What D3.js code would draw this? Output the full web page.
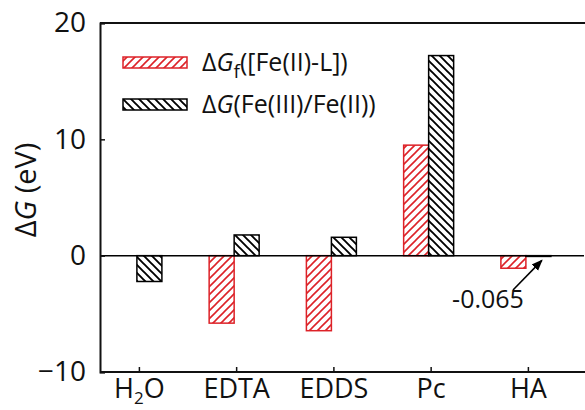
<!DOCTYPE html>
<html><head><meta charset="utf-8">
<script src="https://cdn.jsdelivr.net/npm/d3@7"></script>
<style>body{margin:0;background:#fff}svg{display:block}text{font-family:"Open Sans",sans-serif;fill:#111}</style>
</head><body><svg id="c" width="585" height="410"></svg>
<script>
const categories = ["H2O","EDTA","EDDS","Pc","HA"];
const dGf = [null, -5.8, -6.45, 9.5, -1.08];          // ΔGf([Fe(II)-L])
const dGredox = [-2.22, 1.78, 1.58, 17.2, -0.065];     // ΔG(Fe(III)/Fe(II))
const yTicks = [-10, 0, 10, 20];
const annotation = "-0.065";

const svg = d3.select("#c");
const L = 100, R = 584, T = 23, B = 372;
const x = d3.scaleLinear().domain([0.6, 5.577]).range([L, R]);
const y = d3.scaleLinear().domain([-10, 20]).range([B, T]);
const red = "#dd2228";

const defs = svg.append("defs");
function hatch(id, color, dir, sw){
  const p = defs.append("pattern").attr("id", id).attr("patternUnits","userSpaceOnUse")
    .attr("width", 8).attr("height", 8);
  p.append("rect").attr("width",8).attr("height",8).attr("fill","#fff");
  const d = dir > 0 ? "M-2,2 L2,-2 M0,8 L8,0 M6,10 L10,6" : "M-2,6 L2,10 M0,0 L8,8 M6,-2 L10,2";
  p.append("path").attr("d", d).attr("stroke", color).attr("stroke-width", sw);
}
hatch("hr", red, 1, 1.6);
hatch("hb", "#000", -1, 1.9);
defs.append("marker").attr("id","arr").attr("viewBox","0 0 10 10").attr("refX",9).attr("refY",5)
  .attr("markerWidth",7).attr("markerHeight",7).attr("orient","auto")
  .append("path").attr("d","M0,1 L10,5 L0,9 Z").attr("fill","#000");

const bw = 25;
const idx = categories.map((c,i)=>i+1);

// bars
svg.append("g").selectAll("rect").data(idx.filter(i=>dGf[i-1]!==null)).join("rect")
  .attr("x", i=>x(i)-2-bw).attr("width", bw)
  .attr("y", i=>Math.min(y(dGf[i-1]), y(0))).attr("height", i=>Math.abs(y(dGf[i-1])-y(0)))
  .attr("fill","url(#hr)").attr("stroke", red).attr("stroke-width",1.5);
svg.append("g").selectAll("rect").data(idx).join("rect")
  .attr("x", i=>x(i)-2).attr("width", bw)
  .attr("y", i=>Math.min(y(dGredox[i-1]), y(0))).attr("height", i=>Math.abs(y(dGredox[i-1])-y(0)))
  .attr("fill","url(#hb)").attr("stroke", "#000").attr("stroke-width",1.5);

// zero line
svg.append("line").attr("x1",L).attr("x2",R).attr("y1",y(0)).attr("y2",y(0)).attr("stroke","#000").attr("stroke-width",1.5);
// top frame
svg.append("line").attr("x1",L).attr("x2",R+1).attr("y1",T).attr("y2",T).attr("stroke","#111").attr("stroke-width",2);

// y axis
const ya = svg.append("g").attr("transform",`translate(${L},0)`)
  .call(d3.axisLeft(y).tickValues(yTicks).tickSize(-5).tickPadding(14).tickFormat(d3.format("d")));
ya.select(".domain").attr("stroke","#111").attr("stroke-width",2);
ya.selectAll(".tick line").attr("stroke","#111").attr("stroke-width",1.5);
ya.selectAll(".tick text").style("font-size","28px").attr("fill","#111");

// x axis
const xa = svg.append("g").attr("transform",`translate(0,${B})`)
  .call(d3.axisBottom(x).tickValues(idx).tickSize(-5).tickPadding(0).tickFormat(""));
xa.select(".domain").attr("stroke","#111").attr("stroke-width",2).attr("d",`M${L},0H${R+1}`);
xa.selectAll(".tick line").attr("stroke","#111").attr("stroke-width",1.5);
xa.selectAll(".tick").each(function(i){
  const t = d3.select(this).append("text").attr("y",26).attr("text-anchor","middle")
    .style("font-size","27px").attr("fill","#111");
  const c = categories[i-1];
  if (c === "H2O") {
    t.append("tspan").text("H");
    t.append("tspan").text("2").style("font-size","17px").attr("dy",6);
    t.append("tspan").text("O").attr("dy",-6);
  } else t.text(c);
});

// y label
const yl = svg.append("text").attr("transform","translate(36,190) rotate(-90)").attr("text-anchor","middle")
  .style("font-size","29px");
yl.append("tspan").text("Δ");
yl.append("tspan").text("G").style("font-style","italic");
yl.append("tspan").text(" (eV)");

// legend
const lg = svg.append("g");
const items = [{fill:"url(#hr)", stroke:red, y:57}, {fill:"url(#hb)", stroke:"#000", y:99}];
items.forEach((it,k)=>{
  lg.append("rect").attr("x",123).attr("y",it.y).attr("width",64).attr("height",11)
    .attr("fill",it.fill).attr("stroke",it.stroke).attr("stroke-width",1.5);
});
const t1 = lg.append("text").attr("x",202).attr("y",71).style("font-size","25px");
t1.append("tspan").text("Δ"); t1.append("tspan").text("G").style("font-style","italic");
t1.append("tspan").text("f").style("font-size","19px").attr("dy",7);
t1.append("tspan").text("([Fe(II)-L])").attr("dy",-7);
const t2 = lg.append("text").attr("x",202).attr("y",113).style("font-size","25px");
t2.append("tspan").text("Δ"); t2.append("tspan").text("G").style("font-style","italic");
t2.append("tspan").text("(Fe(III)/Fe(II))");

// annotation
svg.append("text").attr("x",488).attr("y",308).attr("text-anchor","middle").style("font-size","25px").text(annotation);
svg.append("line").attr("x1",513).attr("y1",290).attr("x2",x(5)+14).attr("y2",y(dGredox[4])+4)
  .attr("stroke","#000").attr("stroke-width",1.6).attr("marker-end","url(#arr)");
</script></body></html>
